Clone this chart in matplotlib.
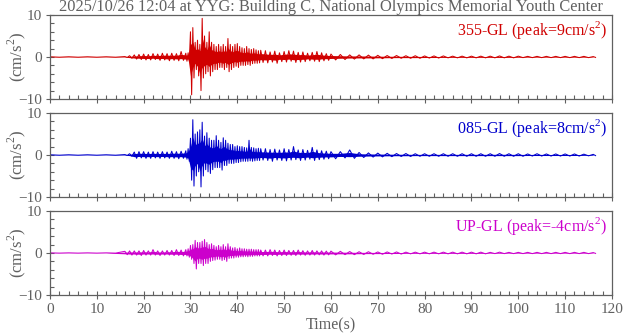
import numpy as np
import matplotlib
matplotlib.use("Agg")
import matplotlib.pyplot as plt
from matplotlib.ticker import MultipleLocator

plt.rcParams["font.family"] = "Liberation Serif"
plt.rcParams["mathtext.fontset"] = "custom"
plt.rcParams["mathtext.rm"] = "Liberation Serif"

title = "2025/10/26 12:04 at YYG: Building C, National Olympics Memorial Youth Center"

# sample times of the envelope readings (s)
t_env = np.concatenate([np.arange(0, 17, 4), np.arange(17, 29.5, 1),
                        np.arange(29.5, 45.5, 0.5), np.arange(46, 60, 1),
                        np.arange(60, 117, 2)])
t_end = 117

# 355-GL
ns_hi = [0.05, 0.05, 0.05, 0.05, 0.1,
         0.3, 0.5, 0.6, 0.7, 0.6, 0.8, 0.7, 0.9, 0.8, 0.9, 0.8, 1.3, 0.9,
         1.0, 6.0, 7.0, 3.5, 4.0, 3.0, 9.2, 5.0, 3.5, 6.0, 3.5, 3.0, 2.5, 3.0, 2.5, 3.0,
         2.5, 4.4, 3.0, 2.5, 3.0, 3.2, 2.5, 2.2, 2.0, 2.5, 2.0, 1.8, 2.0, 1.7, 1.5, 1.6,
         1.5, 1.2, 1.4, 1.0, 1.3, 1.5, 1.4, 1.1, 1.2, 0.9, 1.1, 1.3, 1.0, 0.8,
         0.7, 0.6, 0.5, 0.5, 0.45, 0.4, 0.35, 0.35, 0.3, 0.3, 0.25, 0.25, 0.25, 0.2, 0.2,
         0.2, 0.2, 0.2, 0.25, 0.2, 0.2, 0.15, 0.15, 0.15, 0.15, 0.15, 0.15, 0.15, 0.1]
ns_lo = [-0.05, -0.05, -0.05, -0.05, -0.1,
         -0.3, -0.5, -0.6, -0.7, -0.7, -0.6, -0.8, -0.7, -0.9, -0.8, -0.9, -0.8, -1.0,
         -1.0, -9.0, -5.0, -3.0, -4.5, -8.0, -5.0, -4.0, -3.5, -4.5, -3.5, -3.0, -3.0, -2.5,
         -2.5, -3.0, -2.5, -3.5, -3.0, -2.5, -2.2, -2.5, -2.0, -2.0, -2.0, -1.8, -2.0, -1.6,
         -1.5, -1.5, -1.4, -1.3,
         -1.4, -1.2, -1.5, -1.1, -1.2, -1.0, -1.3, -1.2, -1.1, -0.9, -1.0, -1.1, -0.9, -0.8,
         -0.7, -0.6, -0.5, -0.45, -0.45, -0.4, -0.35, -0.3, -0.3, -0.3, -0.25, -0.25, -0.2,
         -0.2, -0.2, -0.2, -0.2, -0.2, -0.2, -0.2, -0.15, -0.15, -0.15, -0.15, -0.15,
         -0.15, -0.15, -0.15, -0.1]

# 085-GL
ew_hi = [0.05, 0.05, 0.05, 0.05, 0.1,
         0.3, 0.7, 0.8, 0.8, 0.7, 0.8, 0.7, 0.8, 0.7, 0.9, 0.8, 0.9, 1.0,
         1.5, 4.0, 8.4, 5.0, 5.5, 6.0, 7.8, 4.5, 5.3, 4.0, 3.5, 3.5, 4.6, 3.5, 3.0, 4.1,
         3.5, 2.8, 2.5, 2.5, 2.0, 2.2, 2.0, 2.0, 1.8, 1.7, 3.5, 1.8, 1.7, 1.5, 1.6, 1.5,
         1.5, 1.3, 1.4, 1.2, 1.5, 1.3, 2.0, 1.2, 1.3, 1.1, 1.8, 1.2, 1.0, 0.9,
         0.8, 0.8, 1.2, 0.6, 0.5, 0.45, 0.4, 0.35, 0.35, 0.3, 0.3, 0.3, 0.3, 0.3, 0.3,
         0.3, 0.3, 0.3, 0.35, 0.3, 0.3, 0.25, 0.3, 0.25, 0.25, 0.25, 0.25, 0.2, 0.15]
ew_lo = [-0.05, -0.05, -0.05, -0.05, -0.1,
         -0.3, -0.8, -0.7, -0.8, -0.8, -0.7, -0.8, -0.7, -0.8, -0.8, -0.9, -0.8, -1.0,
         -1.5, -6.0, -7.4, -5.0, -4.0, -7.6, -5.0, -3.5, -4.0, -4.4, -3.5, -3.0, -3.0, -3.0,
         -3.6, -2.5, -2.5, -2.0, -2.0, -2.0, -1.8, -1.8, -1.6, -1.5, -1.5, -1.5, -1.4, -1.5,
         -1.4, -1.3, -1.3, -1.2,
         -1.3, -1.5, -1.2, -1.3, -1.4, -1.2, -1.1, -1.3, -1.2, -1.0, -1.3, -1.1, -1.0, -0.9,
         -0.9, -0.7, -0.8, -0.6, -0.5, -0.45, -0.4, -0.35, -0.35, -0.3, -0.3, -0.3, -0.3,
         -0.3, -0.3, -0.3, -0.3, -0.3, -0.3, -0.3, -0.3, -0.25, -0.25, -0.25, -0.25,
         -0.25, -0.25, -0.2, -0.15]

# UP-GL
ud_hi = [0.03, 0.03, 0.03, 0.03, 0.4,
         0.5, 0.5, 0.5, 0.6, 0.5, 0.8, 0.5, 0.5, 0.6, 0.6, 0.8, 0.7, 0.8,
         1.0, 1.8, 2.0, 3.0, 2.5, 2.5, 2.8, 3.2, 2.5, 2.0, 2.2, 1.8, 1.5, 1.8, 1.5, 2.0,
         1.5, 2.2, 1.5, 1.2, 1.3, 1.0, 1.2, 1.0, 1.0, 0.9, 0.9, 0.9, 0.8, 0.8, 0.8, 0.7,
         0.7, 0.8, 0.7, 0.6, 0.7, 0.6, 0.6, 0.7, 0.55, 0.5, 0.6, 0.5, 0.5, 0.45,
         0.45, 0.4, 0.35, 0.3, 0.3, 0.25, 0.25, 0.25, 0.2, 0.2, 0.2, 0.2, 0.2, 0.2, 0.2,
         0.2, 0.2, 0.15, 0.2, 0.15, 0.15, 0.15, 0.15, 0.15, 0.15, 0.15, 0.15, 0.15, 0.1]
ud_lo = [-0.03, -0.03, -0.03, -0.03, -0.4,
         -0.5, -0.5, -0.6, -0.5, -0.5, -0.5, -0.6, -0.5, -0.5, -0.6, -0.6, -0.7, -0.7,
         -1.0, -1.5, -2.5, -3.8, -2.5, -2.5, -3.0, -2.5, -2.5, -2.0, -1.8, -1.7, -1.5, -1.5,
         -1.8, -1.6, -2.0, -1.3, -1.2, -1.2, -1.0, -1.0, -0.9, -0.9, -0.8, -0.9, -0.8, -0.8,
         -0.7, -0.7, -0.7, -0.7,
         -0.7, -0.6, -0.7, -0.6, -0.6, -0.55, -0.6, -0.5, -0.55, -0.5, -0.5, -0.45, -0.5,
         -0.45,
         -0.45, -0.4, -0.4, -0.35, -0.3, -0.3, -0.25, -0.25, -0.2, -0.2, -0.2, -0.2, -0.2,
         -0.2, -0.2, -0.2, -0.2, -0.15, -0.15, -0.15, -0.15, -0.15, -0.15, -0.15, -0.15,
         -0.15, -0.15, -0.15, -0.1]

labels = ["355-GL (peak=9cm/s$^{2}$)", "085-GL (peak=8cm/s$^{2}$)", "UP-GL (peak=-4cm/s$^{2}$)"]
colors = ["#d00000", "#0000cc", "#cc00cc"]
gray = "#606060"


def trace(t, hi, lo):
    # alternate positive and negative peaks inside each sampling step
    dt = np.diff(np.append(t, t_end))
    tt = np.column_stack([t, t + dt / 2]).ravel()
    yy = np.column_stack([hi, lo]).ravel()
    return tt, yy


fig = plt.figure(figsize=(6.24, 3.34), dpi=100)
bottoms = [0.7036, 0.4102, 0.1168]
series = [(ns_hi, ns_lo), (ew_hi, ew_lo), (ud_hi, ud_lo)]

for i, (hi, lo) in enumerate(series):
    ax = fig.add_axes([0.0801, bottoms[i], 0.9006, 0.2515])
    hi = np.array(hi)
    lo = np.array(lo)
    tt, yy = trace(t_env, hi, lo)
    # dense core of the record, spikes drawn by the line on top
    ax.fill_between(t_env, 0.5 * lo, 0.5 * hi, color=colors[i], lw=0)
    ax.plot(tt, yy, color=colors[i], lw=0.75)
    ax.set_xlim(0, 120)
    ax.set_ylim(-10, 10)
    ax.xaxis.set_major_locator(MultipleLocator(10))
    ax.xaxis.set_minor_locator(MultipleLocator(2))
    ax.yaxis.set_major_locator(MultipleLocator(10))
    ax.yaxis.set_minor_locator(MultipleLocator(2))
    ax.tick_params(which="major", direction="inout", length=6, width=0.8,
                   color=gray, labelcolor=gray, labelsize=11, pad=3)
    ax.tick_params(which="minor", direction="in", length=3, width=0.8, color=gray)
    for s in ax.spines.values():
        s.set_color(gray)
        s.set_linewidth(0.9)
    if i < 2:
        ax.tick_params(axis="x", which="both", labelbottom=False)
    ax.set_ylabel("(cm/s$^{2}$)", color=gray, fontsize=12)
    ax.yaxis.set_label_coords(-0.040, 0.5)
    ax.text(0.992, 0.95, labels[i], transform=ax.transAxes, ha="right", va="top",
            color=colors[i], fontsize=11.5)
    if i == 0:
        ax.set_title(title, color=gray, fontsize=11.8, pad=2)
    if i == 2:
        ax.set_xlabel("Time(s)", color=gray, fontsize=11.5, labelpad=1)

fig.savefig("out.png", dpi=100)
